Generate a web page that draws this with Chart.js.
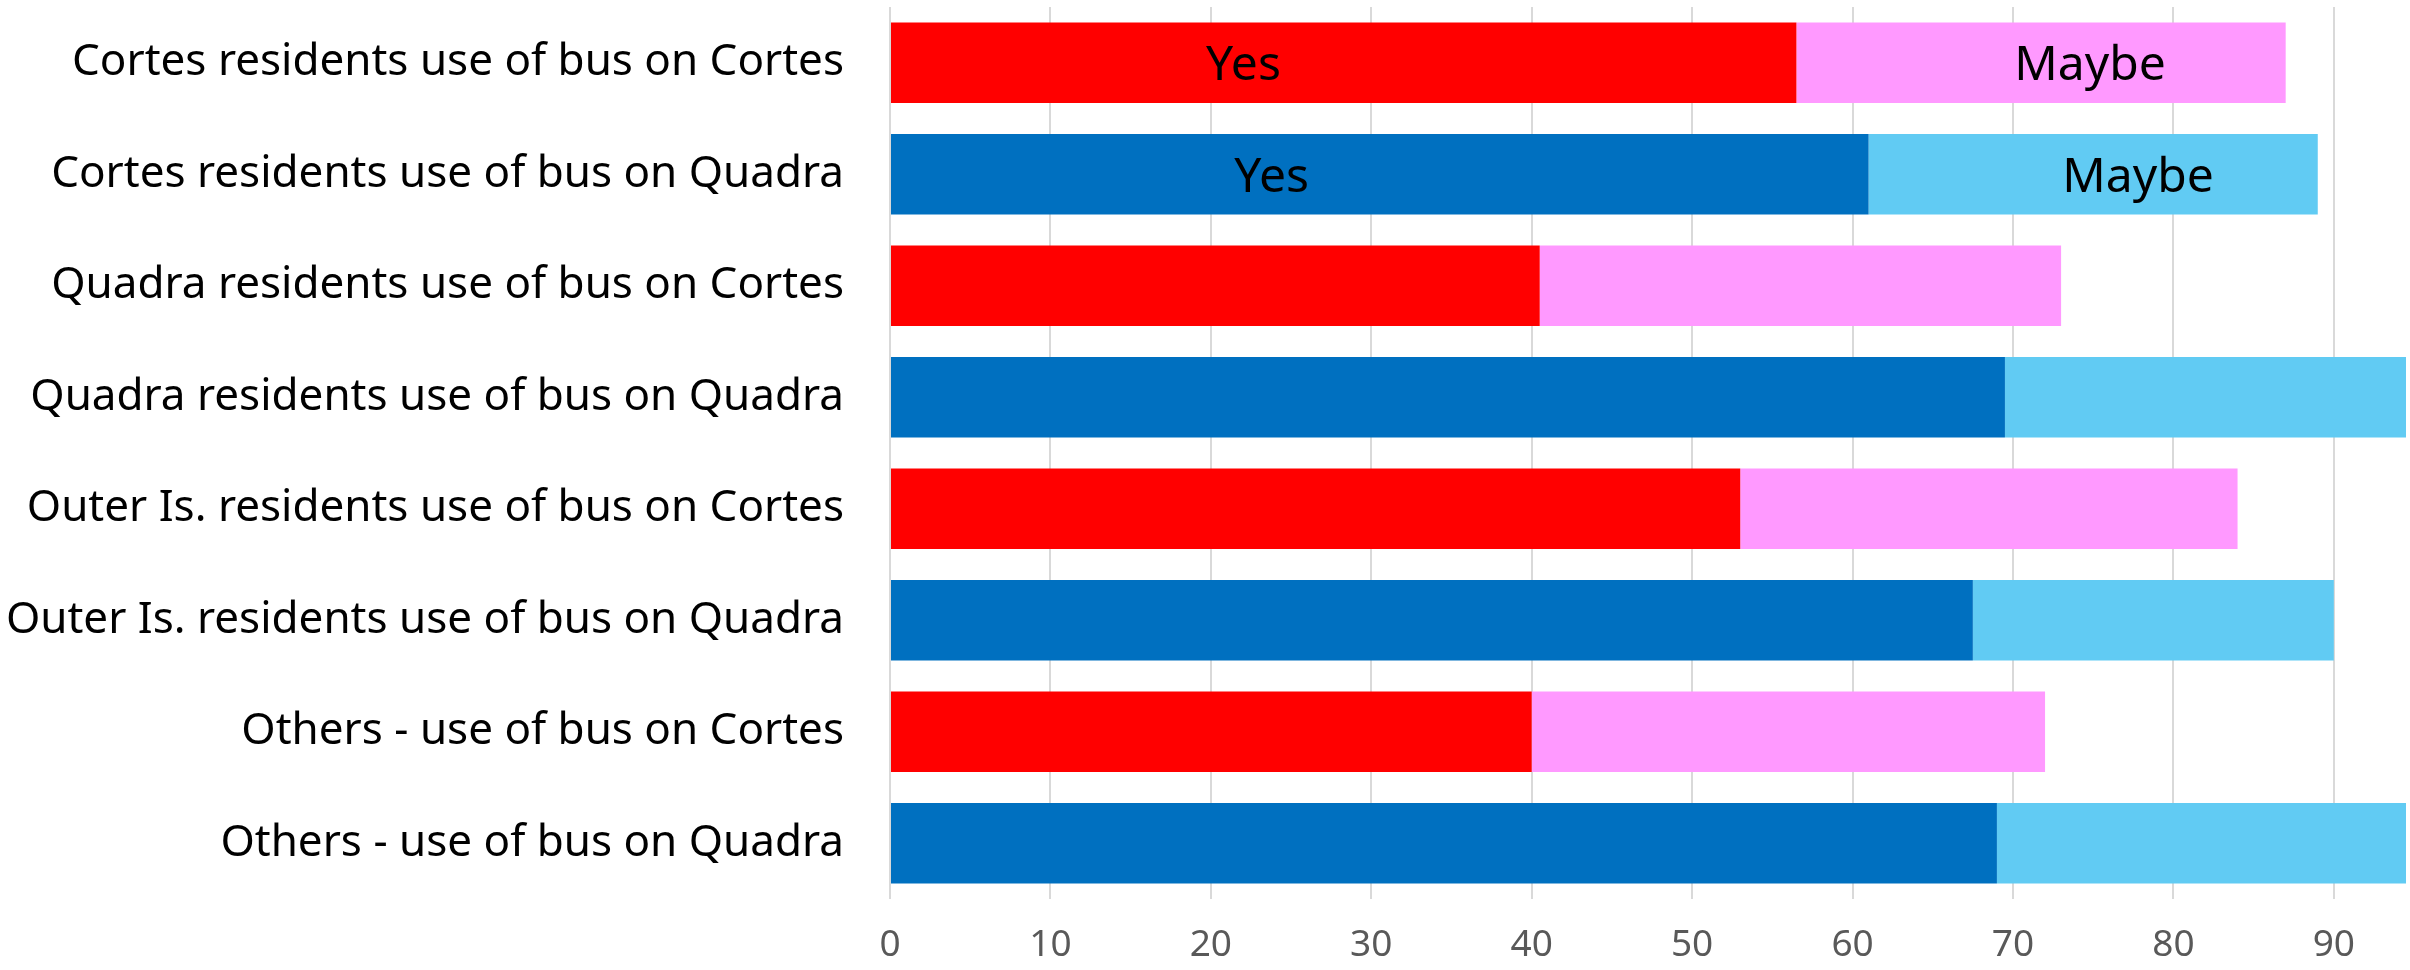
<!DOCTYPE html>
<html>
<head>
<meta charset="utf-8">
<script src="https://cdn.jsdelivr.net/npm/chart.js@4/dist/chart.umd.min.js"></script>
<style>
  body { margin: 0; background: #ffffff; }
  #wrap { width: 2410px; height: 970px; position: relative; }
</style>
</head>
<body>
<div id="wrap"><canvas id="busChart"></canvas></div>
<script>
var categories = [
    'Cortes residents use of bus on Cortes',
    'Cortes residents use of bus on Quadra',
    'Quadra residents use of bus on Cortes',
    'Quadra residents use of bus on Quadra',
    'Outer Is. residents use of bus on Cortes',
    'Outer Is. residents use of bus on Quadra',
    'Others - use of bus on Cortes',
    'Others - use of bus on Quadra'
];
var yesValues   = [56.5, 61, 40.5, 69.5, 53, 67.5, 40, 69];
var maybeValues = [30.5, 28, 32.5, 26, 31, 22.5, 32, 26.5];
var seriesNames = ['Yes', 'Maybe'];
var labelledRows = [0, 1];
var xAxisMax = 94.5;

// red / pink for Cortes rows, blue / light blue for Quadra rows
var yesColors = categories.map(function (c) { return c.endsWith('Cortes') ? '#FF0000' : '#0070C0'; });
var maybeColors = categories.map(function (c) { return c.endsWith('Cortes') ? '#FF99FF' : '#61CBF3'; });

var segmentLabels = {
    id: 'segmentLabels',
    afterDatasetsDraw: function (chart) {
        var ctx = chart.ctx;
        var xs = chart.scales.x, ys = chart.scales.y;
        ctx.save();
        ctx.font = '48px "Noto Sans"';
        ctx.fillStyle = '#000000';
        ctx.textAlign = 'center';
        ctx.textBaseline = 'middle';
        labelledRows.forEach(function (i) {
            var yPix = ys.getPixelForValue(i) + 4;
            ctx.fillText(seriesNames[0], xs.getPixelForValue(yesValues[i] * 0.39), yPix);
            ctx.fillText(seriesNames[1], xs.getPixelForValue(yesValues[i] + maybeValues[i] * 0.6), yPix);
        });
        ctx.restore();
    }
};

var busChart = new Chart(document.getElementById('busChart').getContext('2d'), {
    type: 'bar',
    data: {
        labels: categories,
        datasets: [{
            label: seriesNames[0],
            data: yesValues,
            backgroundColor: yesColors,
            barPercentage: 0.72,
            categoryPercentage: 1
        }, {
            label: seriesNames[1],
            data: maybeValues,
            backgroundColor: maybeColors,
            barPercentage: 0.72,
            categoryPercentage: 1
        }]
    },
    options: {
        indexAxis: 'y',
        responsive: true,
        maintainAspectRatio: false,
        animation: false,
        layout: {
            padding: { top: 7, right: 4, left: 0, bottom: 0 }
        },
        plugins: {
            legend: { display: false },
            tooltip: { enabled: false }
        },
        scales: {
            x: {
                stacked: true,
                min: 0,
                max: xAxisMax,
                border: { display: false },
                grid: {
                    color: '#D9D9D9',
                    lineWidth: 2,
                    drawTicks: false
                },
                ticks: {
                    stepSize: 10,
                    includeBounds: false,
                    padding: 24,
                    color: '#595959',
                    font: { family: 'Noto Sans', size: 37 }
                },
                afterFit: function (scale) {
                    scale.height = 71;
                    scale.paddingLeft = 0;
                    scale.paddingRight = 0;
                }
            },
            y: {
                stacked: true,
                border: { display: false },
                grid: { display: false, drawTicks: true, tickLength: 46 },
                ticks: {
                    padding: 0,
                    color: '#000000',
                    font: { family: 'Noto Sans', size: 44 }
                },
                afterFit: function (scale) {
                    scale.width = 890;
                    scale.paddingTop = 0;
                    scale.paddingBottom = 0;
                }
            }
        }
    },
    plugins: [segmentLabels]
});
</script>
</body>
</html>
